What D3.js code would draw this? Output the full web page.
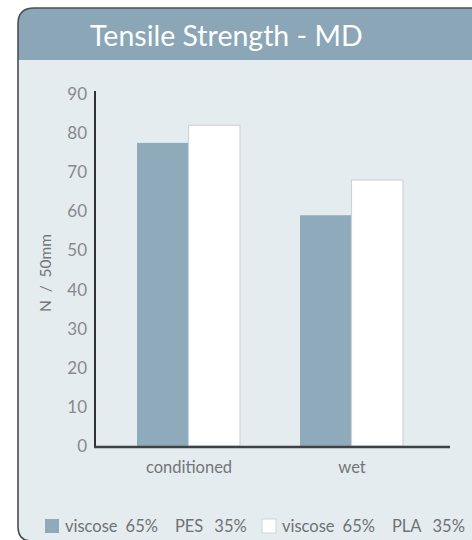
<!DOCTYPE html>
<html><head><meta charset="utf-8">
<script src="https://cdn.jsdelivr.net/npm/d3@7"></script>
<style>html,body{margin:0;padding:0;background:#fff;}svg{display:block;}</style>
</head><body>
<svg id="c" width="472" height="540"></svg>
<script>
const categories = ["conditioned", "wet"];
const seriesNames = [["viscose", "65%", "PES", "35%"], ["viscose", "65%", "PLA", "35%"]];
const pesValues = [77.5, 59];
const plaValues = [82, 68];
const yTicks = [0, 10, 20, 30, 40, 50, 60, 70, 80, 90];
const title = "Tensile Strength - MD";
const yLabel = "N  /  50mm";

const svg = d3.select("#c");
const font = "Lato, 'Open Sans', sans-serif";

// panel
const px = 18, py = 8, r = 16, by = 541, rb = 14;
const panelPath = `M${px + rb},${by} Q${px},${by} ${px},${by - rb} L${px},${py + r} Q${px},${py} ${px + r},${py} L480,${py} L480,${by} Z`;
svg.append("path").attr("d", panelPath).attr("fill", "#e5ecef");
svg.append("clipPath").attr("id", "hc").append("path").attr("d", panelPath);
svg.append("rect").attr("x", px).attr("y", py).attr("width", 470).attr("height", 52)
  .attr("fill", "#8aa6b7").attr("clip-path", "url(#hc)");
svg.append("path").attr("d", `M${px + rb},${by} Q${px},${by} ${px},${by - rb} L${px},${py + r} Q${px},${py} ${px + r},${py} L480,${py}`)
  .attr("fill", "none").attr("stroke", "#4a4f55").attr("stroke-width", 1.6);

svg.append("text").attr("x", 90).attr("y", 46).text(title)
  .attr("fill", "#fff").attr("font-family", font).attr("font-size", 28.5);

// scales
const y = d3.scaleLinear().domain([0, 90]).range([446, 94]);
const x = d3.scalePoint().domain(categories).range([107, 433]).padding(0.5);
const xs = d3.scaleBand().domain([0, 1]).range([-51.5, 51.5]).padding(0);

const data = categories.map((c, i) => ({ c, vals: [pesValues[i], plaValues[i]] }));
const fills = ["#8eaabb", "#ffffff"];
const strokes = ["none", "#c9d5db"];

const g = svg.append("g");
data.forEach(d => {
  d.vals.forEach((v, j) => {
    g.append("rect")
      .attr("x", x(d.c) + xs(j))
      .attr("y", y(v))
      .attr("width", xs.bandwidth())
      .attr("height", y(0) - y(v))
      .attr("fill", fills[j])
      .attr("stroke", strokes[j]).attr("stroke-width", 1.2);
  });
});

// y axis
const yAxis = d3.axisLeft(y).tickValues(yTicks).tickSize(0).tickPadding(8);
const ya = svg.append("g").attr("transform", "translate(95,0)").call(yAxis);
ya.select(".domain").remove();
ya.selectAll("text").attr("fill", "#85898c").attr("font-family", font).attr("font-size", 17);
svg.append("line").attr("x1", 95).attr("x2", 95).attr("y1", 91).attr("y2", 447)
  .attr("stroke", "#2f3337").attr("stroke-width", 2);

// x axis
const xAxis = d3.axisBottom(x).tickSize(0).tickPadding(14);
const xa = svg.append("g").attr("transform", "translate(0,447)").call(xAxis);
xa.select(".domain").remove();
xa.selectAll("text").attr("fill", "#727679").attr("font-family", font).attr("font-size", 16.5);
svg.append("line").attr("x1", 94).attr("x2", 450).attr("y1", 447).attr("y2", 447)
  .attr("stroke", "#3d4247").attr("stroke-width", 2.5);

// y label
svg.append("text").attr("transform", "translate(51,273) rotate(-90)")
  .attr("text-anchor", "middle").text(yLabel)
  .attr("fill", "#727679").attr("font-family", font).attr("font-size", 15.5)
  .style("white-space", "pre");

// legend
const legX = [45, 262];
const gaps = [0, 8, 17, 11];
seriesNames.forEach((parts, j) => {
  svg.append("rect").attr("x", legX[j]).attr("y", 519).attr("width", 14).attr("height", 14)
    .attr("fill", fills[j]).attr("stroke", j ? "#c9d5db" : "none");
  const t = svg.append("text").attr("x", legX[j] + 20).attr("y", 532)
    .attr("fill", "#6e7275").attr("font-family", font).attr("font-size", 16.5);
  parts.forEach((p, k) => t.append("tspan").attr("dx", gaps[k]).text(p));
});
</script>
</body></html>
